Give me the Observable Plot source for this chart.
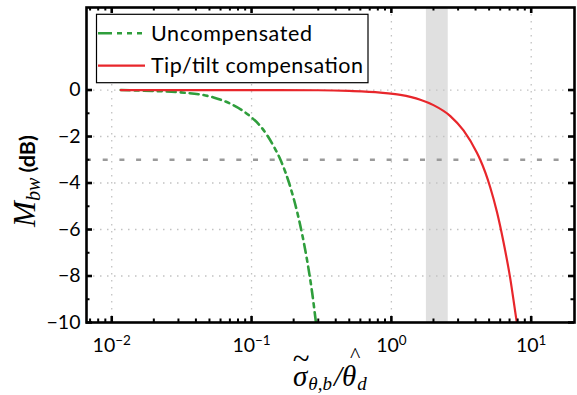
<!DOCTYPE html>
<html><head><meta charset="utf-8">
<script src="https://cdn.jsdelivr.net/npm/d3@7"></script>
<script src="https://cdn.jsdelivr.net/npm/@observablehq/plot@0.6"></script>
<style>body{margin:0;background:#fff;} #chart svg{display:block;}</style>
</head><body><div id="chart"></div>
<script>
// ---- data ----
const uncompX = [0.0116, 0.02, 0.031, 0.0535, 0.07, 0.088, 0.1, 0.116, 0.144, 0.161, 0.19, 0.212, 0.23, 0.25, 0.271, 0.29];
const uncompY = [0, -0.04, -0.1, -0.32, -0.58, -0.92, -1.18, -1.56, -2.42, -3.0, -4.2, -5.25, -6.2, -7.35, -8.7, -10.1];
const tipX = [0.0116, 0.1, 0.3, 0.5, 0.834, 1.16, 1.61, 2.0, 2.64, 3.28, 4.09, 4.32, 5.09, 5.69, 6.34, 7.08, 7.69, 7.98];
const tipY = [0, 0, -0.01, -0.04, -0.11, -0.21, -0.42, -0.65, -1.12, -1.74, -2.7, -3.0, -4.18, -5.25, -6.55, -8.1, -9.55, -10.2];
const seriesNames = ["Uncompensated", "Tip/tilt compensation"];
const seriesColors = ["#2f9e3c", "#e8262b"];
const xTicks = [0.01, 0.1, 1, 10];
const xTickExponents = ["\u22122", "\u22121", "0", "1"];
const yTicks = [0, -2, -4, -6, -8, -10];
const yMinorTicks = [-1, -3, -5, -7, -9];
const xMinorTicks = [0.007, 0.008, 0.009, 0.02, 0.03, 0.04, 0.05, 0.06, 0.07, 0.08, 0.09,
  0.2, 0.3, 0.4, 0.5, 0.6, 0.7, 0.8, 0.9, 2, 3, 4, 5, 6, 7, 8, 9];
const band = [1.78, 2.55];
const threshold = -3;

const uncomp = uncompX.map((x, i) => ({x, y: uncompY[i]}));
const tip = tipX.map((x, i) => ({x, y: tipY[i]}));

const W = 577, H = 395, mL = 86, mR = 3, mT = 7, mB = 73;
const plotH = H - mT - mB, plotW = W - mL - mR;
const majLen = 6, minLen = 3.5;
const serif = "'Liberation Serif', 'DejaVu Serif', serif";

const svg = Plot.plot({
  width: W, height: H,
  marginLeft: mL, marginRight: mR, marginTop: mT, marginBottom: mB,
  style: {fontFamily: "Lato, 'Open Sans', sans-serif", background: "white", overflow: "visible", color: "black"},
  x: {type: "log", domain: [0.0066, 20.4]},
  y: {domain: [-10, 3.55]},
  marks: [
    Plot.rect([band], {x1: d => d[0], x2: d => d[1], fill: "#e0e0e0"}),
    Plot.ruleX(xTicks, {stroke: "#c2c2c2", strokeWidth: 1.3, strokeDasharray: "1.5,5.5"}),
    Plot.ruleY(yTicks.filter(v => v > -10), {stroke: "#c2c2c2", strokeWidth: 1.3, strokeDasharray: "1.5,5.5"}),
    Plot.ruleY([threshold], {stroke: "#9a9a9a", strokeWidth: 2.5, strokeDasharray: "5,11.7"}),
    Plot.line(uncomp, {x: "x", y: "y", stroke: seriesColors[0], strokeWidth: 2.6, strokeDasharray: "9,5,4,5", curve: "monotone-x", clip: true}),
    Plot.line(tip, {x: "x", y: "y", stroke: seriesColors[1], strokeWidth: 2.2, curve: "monotone-x", clip: true}),
    // inward ticks: bottom / top
    Plot.ruleX(xTicks, {stroke: "black", strokeWidth: 2.6, insetTop: plotH - majLen}),
    Plot.ruleX(xTicks, {stroke: "black", strokeWidth: 2.6, insetBottom: plotH - majLen}),
    Plot.ruleX(xMinorTicks, {stroke: "black", strokeWidth: 2, insetTop: plotH - minLen}),
    Plot.ruleX(xMinorTicks, {stroke: "black", strokeWidth: 2, insetBottom: plotH - minLen}),
    // inward ticks: left / right
    Plot.ruleY(yTicks, {stroke: "black", strokeWidth: 2.6, insetRight: plotW - majLen}),
    Plot.ruleY(yTicks, {stroke: "black", strokeWidth: 2.6, insetLeft: plotW - majLen}),
    Plot.ruleY(yMinorTicks, {stroke: "black", strokeWidth: 2, insetRight: plotW - minLen}),
    Plot.ruleY(yMinorTicks, {stroke: "black", strokeWidth: 2, insetLeft: plotW - minLen}),
    Plot.frame({stroke: "black", strokeWidth: 2.6}),
    Plot.axisX(xTicks, {tickSize: 0, tickPadding: 16, fontSize: 19.5, label: null, tickFormat: () => "10"}),
    Plot.axisY(yTicks, {tickSize: 0, tickPadding: 6, fontSize: 19.5, label: null})
  ]
});
document.getElementById("chart").appendChild(svg);

const s = d3.select(svg);
// superscript exponents on x tick labels
s.selectAll('g[aria-label="x-axis tick label"] text').each(function(d, i) {
  const t = d3.select(this);
  t.text("10");
  t.append("tspan").attr("font-size", 13.5).attr("dy", "-0.55em").text(xTickExponents[i]);
});

// x-axis label: σ̃_{θ,b} / θ̂_d  (accents placed as tspans over their letters)
const xl = s.append("text").attr("x", 0).attr("y", 386).attr("text-anchor", "start")
  .attr("font-family", serif).attr("font-style", "italic").attr("font-size", 29).attr("fill", "black");
xl.append("tspan").text("\u03C3");
const tT = xl.append("tspan").attr("font-style", "normal").attr("font-size", 31).attr("dy", -17).text("~");
const t2 = xl.append("tspan").attr("font-size", 19).attr("dy", 21).text("\u03B8,b");
xl.append("tspan").attr("dy", -4).attr("dx", 2).text("/\u03B8");
const tH = xl.append("tspan").attr("font-style", "normal").attr("font-size", 22).attr("dy", -24).text("^");
const t4 = xl.append("tspan").attr("font-size", 19).attr("dy", 28).text("d");
const xn = xl.node();
let e0 = xn.getExtentOfChar(0), e1 = xn.getExtentOfChar(1);
const d1 = (e0.x + e0.width / 2 + 1) - (e1.x + e1.width / 2);
tT.attr("dx", d1);
t2.attr("dx", (e0.x + e0.width + 1) - (e1.x + e1.width + d1));
let e6 = xn.getExtentOfChar(6), e7 = xn.getExtentOfChar(7);
const d2 = (e6.x + e6.width / 2 + 6) - (e7.x + e7.width / 2);
tH.attr("dx", d2);
t4.attr("dx", (e6.x + e6.width + 1) - (e7.x + e7.width + d2));
const bb = xn.getBBox();
xl.attr("x", 330 - (bb.x + bb.width / 2));

// y-axis label
const yl = s.append("text").attr("transform", "translate(35,181) rotate(-90)").attr("text-anchor", "middle").attr("fill", "black");
yl.append("tspan").attr("font-family", serif).attr("font-style", "italic").attr("font-size", 31).text("M");
yl.append("tspan").attr("font-family", serif).attr("font-style", "italic").attr("font-size", 20).attr("dy", 5).text("bw");
yl.append("tspan").attr("font-family", "Lato, sans-serif").attr("font-weight", "bold").attr("font-size", 21.5).attr("dy", -5).text("\u00A0(dB)");

// legend
const lg = s.append("g");
lg.append("rect").attr("x", 96.5).attr("y", 14.3).attr("width", 271.5).attr("height", 68.4)
  .attr("fill", "white").attr("stroke", "black").attr("stroke-width", 1.2);
const rows = [33.3, 65.7];
const textLens = [161, 212];
seriesNames.forEach((name, i) => {
  lg.append("line").attr("x1", 98).attr("x2", 145).attr("y1", rows[i]).attr("y2", rows[i])
    .attr("stroke", seriesColors[i]).attr("stroke-width", i === 0 ? 2.6 : 2.2)
    .attr("stroke-dasharray", i === 0 ? "14,5,5,5,5,5,5" : null);
  lg.append("text").attr("x", 151).attr("y", rows[i] + 7.4).attr("text-anchor", "start")
    .attr("font-family", "Lato, sans-serif").attr("font-size", 21.5).attr("fill", "black")
    .attr("textLength", textLens[i]).attr("lengthAdjust", "spacing").text(name);
});
</script>
</body></html>
